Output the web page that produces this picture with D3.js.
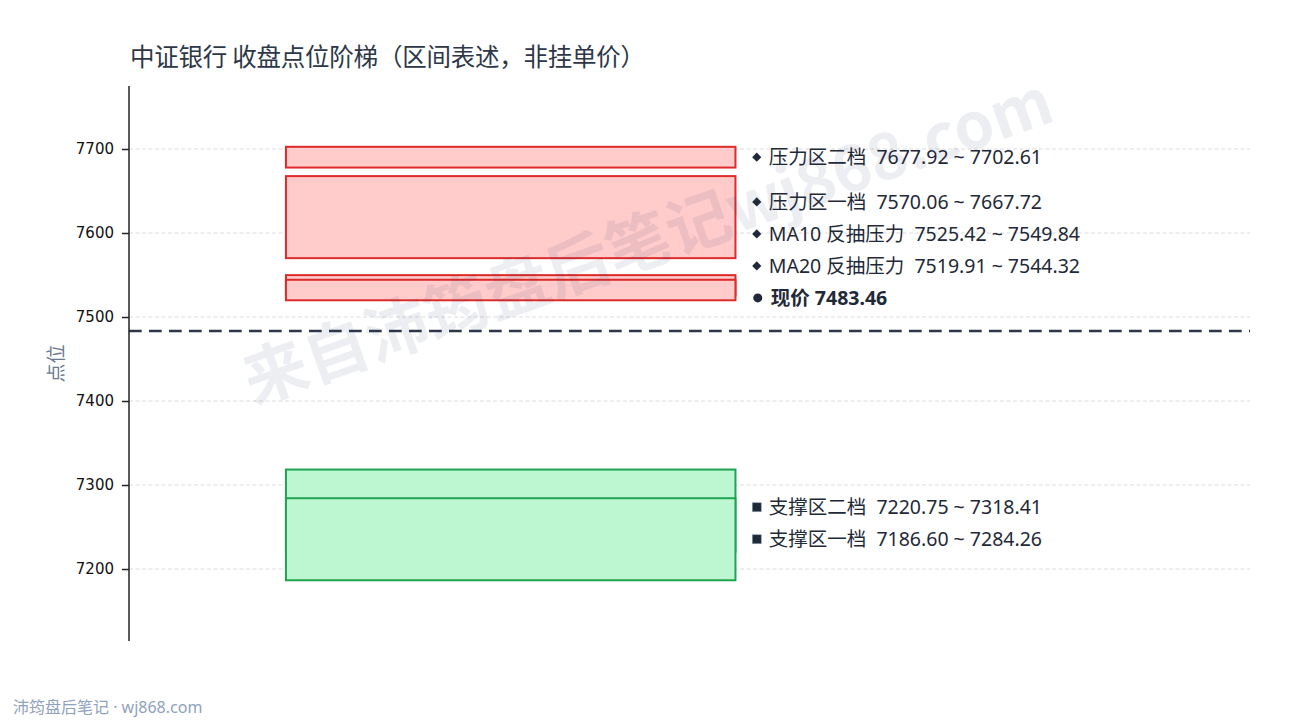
<!DOCTYPE html>
<html>
<head>
<meta charset="utf-8">
<script src="https://cdn.jsdelivr.net/npm/d3@7"></script>
<style>
  body { margin: 0; background: #fff; }
  svg { display: block; font-family: "Noto Sans", "Noto Sans CJK SC", sans-serif; }
</style>
</head>
<body>
<div id="chart"></div>
<script>
// zone data
const resistNames = ["压力区二档", "压力区一档", "MA10 反抽压力", "MA20 反抽压力"];
const resistLow = [7677.92, 7570.06, 7525.42, 7519.91];
const resistHigh = [7702.61, 7667.72, 7549.84, 7544.32];

const supportNames = ["支撑区二档", "支撑区一档"];
const supportLow = [7220.75, 7186.60];
const supportHigh = [7318.41, 7284.26];

const currentPrice = 7483.46;
const yTicks = [7200, 7300, 7400, 7500, 7600, 7700];

const width = 1290, height = 720;
const plotLeft = 129, plotRight = 1250, plotTop = 86, plotBottom = 641;
const labelGap = 32;

const svg = d3.select("#chart").append("svg")
    .attr("width", width)
    .attr("height", height);

const x = d3.scaleLinear().domain([0, 1]).range([plotLeft, plotRight]);
const y = d3.scaleLinear().domain([7114.3, 7775]).range([plotBottom, plotTop]);

//title
svg.append("text")
    .attr("x", 130).attr("y", 66)
    .attr("font-size", 24.5)
    .attr("fill", "#2d3748")
    .attr("font-family", "'Noto Sans CJK SC', sans-serif")
    .attr("textLength", 515)
    .attr("lengthAdjust", "spacing")
    .text("中证银行 收盘点位阶梯（区间表述，非挂单价）");

//grid lines
svg.append("g")
    .selectAll("line")
    .data(yTicks)
    .enter().append("line")
    .attr("x1", plotLeft).attr("x2", plotRight)
    .attr("y1", d => y(d)).attr("y2", d => y(d))
    .attr("stroke", "#dcdcdc")
    .attr("stroke-width", 1)
    .attr("stroke-dasharray", "4,2.5");

//zones
const resist = resistNames.map((name, i) => ({ name, lo: resistLow[i], hi: resistHigh[i] }));
const support = supportNames.map((name, i) => ({ name, lo: supportLow[i], hi: supportHigh[i] }));

function drawZones(data, fill, stroke) {
    svg.append("g")
        .selectAll("rect")
        .data(data)
        .enter().append("rect")
        .attr("x", x(0.14))
        .attr("width", x(0.541) - x(0.14))
        .attr("y", d => y(d.hi))
        .attr("height", d => y(d.lo) - y(d.hi))
        .attr("fill", fill)
        .attr("stroke", stroke)
        .attr("stroke-width", 2);
}
drawZones(resist, "#ffcbcb", "#dc2b2b");
drawZones(support, "#bcf7d1", "#1ea34e");

//current price line
svg.append("line")
    .attr("x1", plotLeft).attr("x2", plotRight)
    .attr("y1", y(currentPrice)).attr("y2", y(currentPrice))
    .attr("stroke", "#2d3748")
    .attr("stroke-width", 2.5)
    .attr("stroke-dasharray", "12.7,7.3");

//axis
const axis = svg.append("g")
    .attr("transform", `translate(${plotLeft},0)`)
    .call(d3.axisLeft(y).tickValues(yTicks).tickSize(7).tickPadding(8).tickFormat(d3.format("d")));
axis.select(".domain")
    .attr("stroke", "#222").attr("stroke-width", 1.5)
    .attr("d", `M0,${plotTop}V${plotBottom}`);
axis.selectAll(".tick line").attr("stroke", "#222").attr("stroke-width", 1.5);
axis.selectAll(".tick text")
    .attr("font-size", 15)
    .attr("fill", "#111")
    .attr("font-family", "'DejaVu Sans', sans-serif");

svg.append("text")
    .attr("transform", `translate(63,${(plotTop + plotBottom) / 2}) rotate(-90)`)
    .attr("text-anchor", "middle")
    .attr("font-size", 19)
    .attr("fill", "#6b7a90")
    .attr("font-family", "'Noto Sans CJK SC', sans-serif")
    .text("点位");

//label layout: push labels upward from the bottom so they keep a min gap
const fmt = d3.format(".2f");
const priceLabelY = y(currentPrice) - labelGap - 1;

function layout(data, startY) {
    const items = data.map(d => ({ d, want: y((d.lo + d.hi) / 2) }))
        .sort((a, b) => b.want - a.want);
    let prev = startY;
    items.forEach(it => {
        it.y = prev == null ? it.want : Math.min(it.want, prev - labelGap);
        prev = it.y;
    });
    return items;
}

const labelX = x(0.56);
const resistLabels = layout(resist, priceLabelY);
const supportLabels = layout(support, null);

function drawLabels(items, marker) {
    const g = svg.append("g");
    items.forEach(it => {
        g.append("rect")
            .attr("x", -4.5).attr("y", -4.5)
            .attr("width", 9).attr("height", 9)
            .attr("transform", `translate(${labelX},${it.y})` + (marker === "diamond" ? " rotate(45) scale(0.72)" : ""))
            .attr("fill", "#1f2937")
            .attr("stroke", marker === "diamond" ? "none" : "#94a3b8")
            .attr("stroke-width", 0.6);
        g.append("text")
            .attr("x", labelX + 12)
            .attr("y", it.y)
            .attr("dy", "0.35em")
            .attr("font-size", 19.5)
            .attr("fill", "#1f2937")
            .attr("xml:space", "preserve")
            .text(`${it.d.name}  ${fmt(it.d.lo)} ~ ${fmt(it.d.hi)}`);
    });
}
drawLabels(resistLabels, "diamond");
drawLabels(supportLabels, "square");

svg.append("circle")
    .attr("cx", labelX + 1).attr("cy", priceLabelY)
    .attr("r", 4.5)
    .attr("fill", "#1f2937");
svg.append("text")
    .attr("x", labelX + 14)
    .attr("y", priceLabelY)
    .attr("dy", "0.35em")
    .attr("font-size", 19.5)
    .attr("font-weight", "bold")
    .attr("fill", "#1f2937")
    .text(`现价 ${fmt(currentPrice)}`);

//watermark
svg.append("text")
    .attr("transform", "translate(646,236) rotate(-19.5)")
    .attr("text-anchor", "middle")
    .attr("dominant-baseline", "central")
    .attr("font-size", 64)
    .attr("font-weight", "bold")
    .attr("font-family", "'Noto Sans CJK SC', sans-serif")
    .attr("fill", "#1e3a6a")
    .attr("fill-opacity", 0.085)
    .text("来自沛筠盘后笔记wj868.com");

//footer
svg.append("text")
    .attr("x", 13).attr("y", 713)
    .attr("font-size", 16)
    .attr("fill", "#8fa2bd")
    .attr("font-family", "'Noto Sans', 'Noto Sans CJK SC', sans-serif")
    .text("沛筠盘后笔记 · wj868.com");
</script>
</body>
</html>
